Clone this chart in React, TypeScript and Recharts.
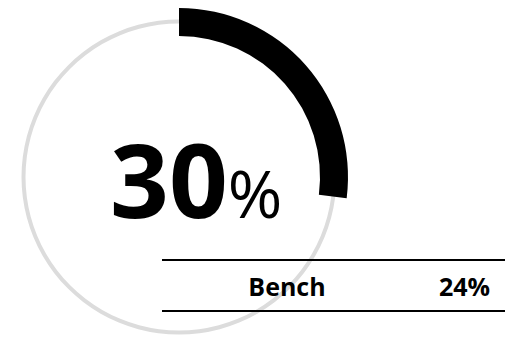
import React from 'react';
import { PieChart, Pie, Cell } from 'recharts';

const score = [{ name: 'Score', value: 27 }, { name: 'Rest', value: 73 }];
const track = [{ name: 'Track', value: 100 }];
const scoreLabel = '30';
const benchName = 'Bench';
const benchValue = '24%';

const FONT = '"Open Sans", "Noto Sans", sans-serif';

export default function App() {
  return (
    <div style={{ position: 'fixed', left: 0, top: 0, width: 505, height: 337, background: '#fff' }}>
      <PieChart width={505} height={337} margin={{ top: 0, right: 0, bottom: 0, left: 0 }}>
        <Pie
          data={track}
          dataKey="value"
          cx={179}
          cy={177}
          innerRadius={153.5}
          outerRadius={157.5}
          startAngle={90}
          endAngle={-270}
          stroke="none"
          fill="#dcdcdc"
          isAnimationActive={false}
        />
        <Pie
          data={score}
          dataKey="value"
          cx={179}
          cy={177}
          innerRadius={141}
          outerRadius={169}
          startAngle={90}
          endAngle={-270}
          stroke="none"
          isAnimationActive={false}
        >
          <Cell fill="#000" />
          <Cell fill="transparent" />
        </Pie>
      </PieChart>
      <svg width={505} height={337} style={{ position: 'absolute', left: 0, top: 0 }}>
        <text x={110} y={218} fontFamily={FONT} fill="#000">
          <tspan fontSize={103} fontWeight={700}>{scoreLabel}</tspan>
          <tspan fontSize={66} fontWeight={400}>%</tspan>
        </text>
        <line x1={162} x2={505} y1={260} y2={260} stroke="#000" strokeWidth={2} />
        <line x1={162} x2={505} y1={311} y2={311} stroke="#000" strokeWidth={2} />
        <text x={287} y={296} textAnchor="middle" fontFamily={FONT} fontSize={25} fontWeight={700} fill="#000">
          {benchName}
        </text>
        <text x={490} y={296} textAnchor="end" fontFamily={FONT} fontSize={25} fontWeight={700} fill="#000">
          {benchValue}
        </text>
      </svg>
    </div>
  );
}
